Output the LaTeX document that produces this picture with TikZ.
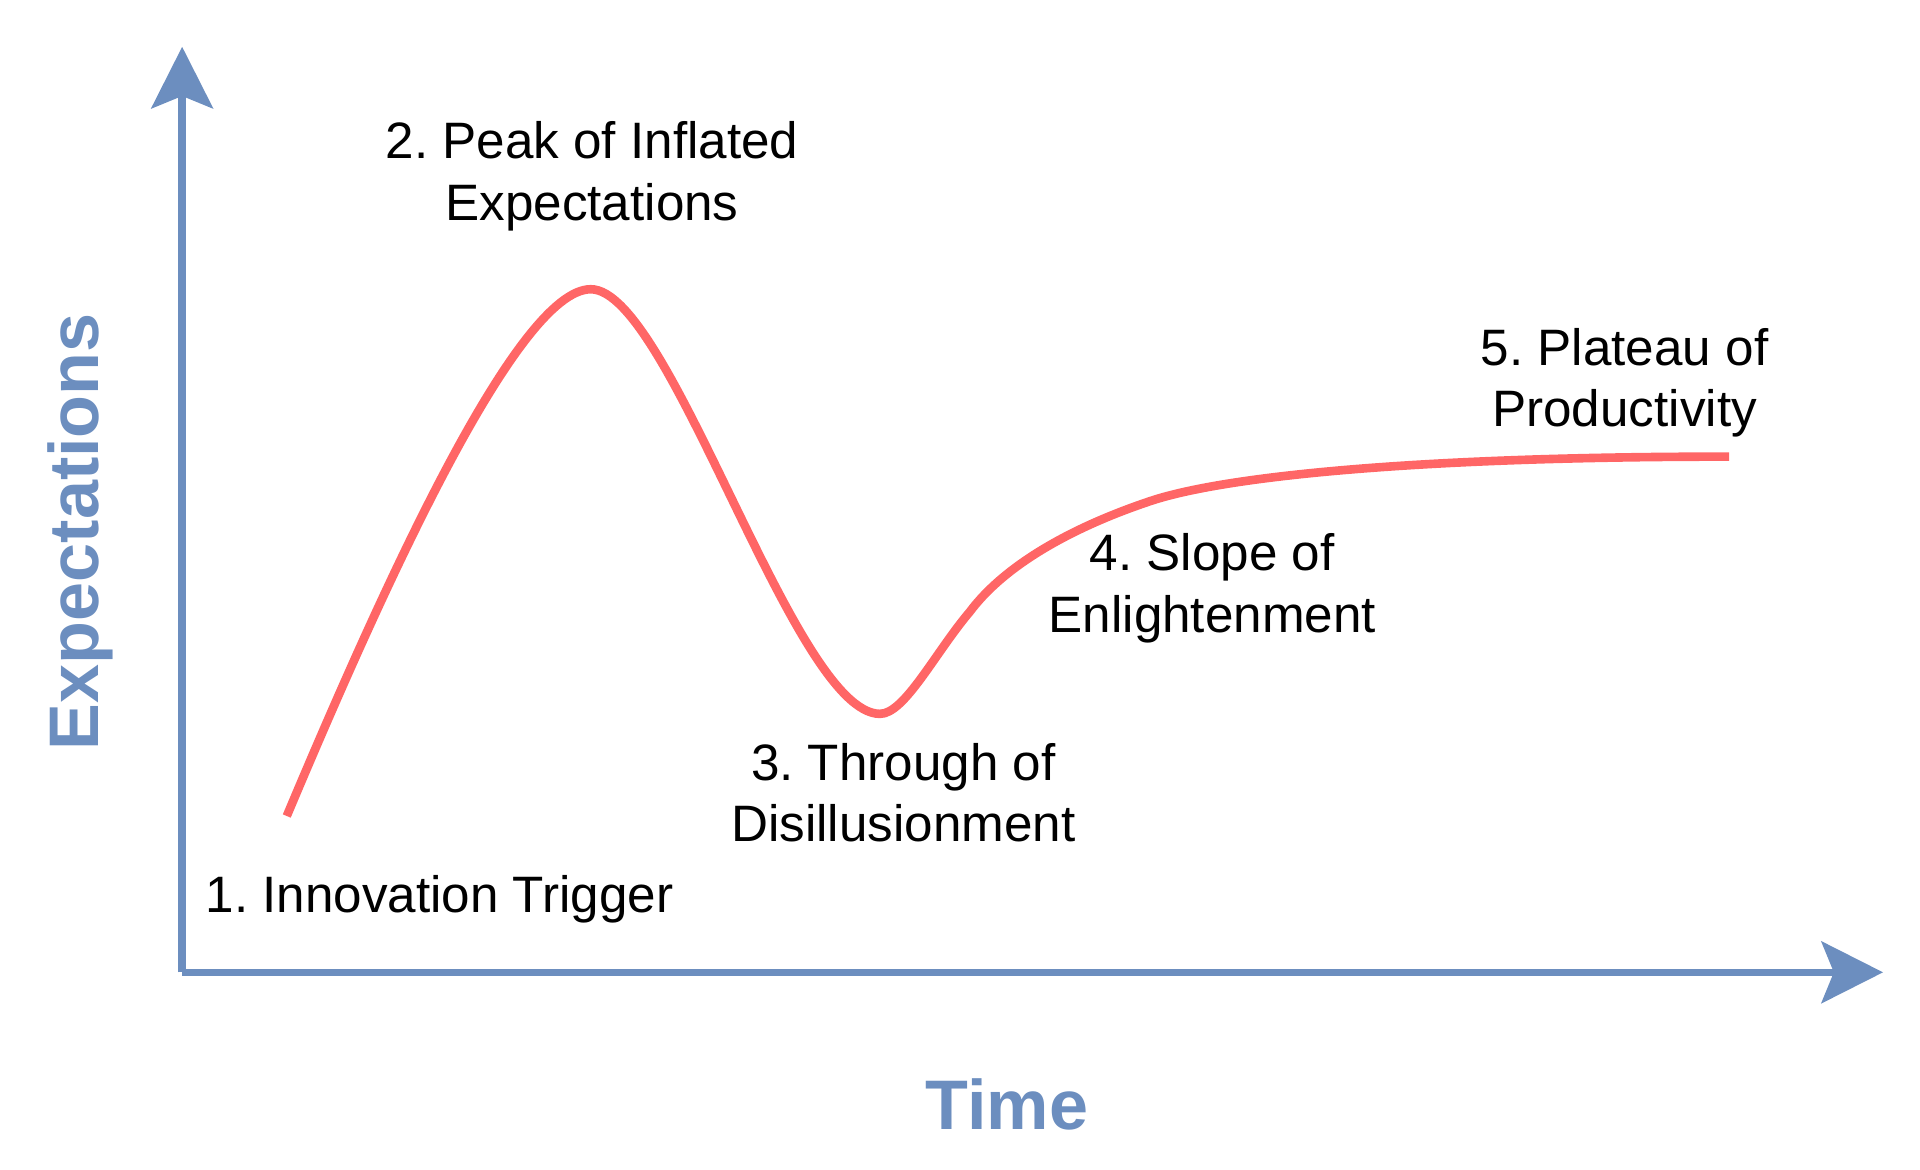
\documentclass[tikz,border=0pt]{standalone}
\usepackage{fontspec}
\setmainfont{Liberation Sans}
\usepackage{xcolor}
\usetikzlibrary{arrows.meta}
\definecolor{axisblue}{HTML}{6C8EBF}
\definecolor{hypered}{HTML}{FF6666}
\newcommand{\AX}[0]{axisblue}
\newcommand{\HC}[0]{hypered}
\frenchspacing

\begin{document}
\begin{tikzpicture}[x=0.5pt, y=-0.5pt,
  axis/.style={line width=3pt, color=\AX, -{Stealth[length=25pt, width=25pt, inset=5pt]}},
  hype/.style={line width=3.5pt, color=\HC},
  phase/.style={align=center, font=\fontsize{20.8pt}{25pt}\selectfont, inner sep=0pt},
  title/.style={color=\AX, font=\fontsize{28.5pt}{34pt}\selectfont\bfseries, inner sep=0pt}]

  \useasboundingbox (0, 0) rectangle (1560, 950);

  \coordinate (origin) at (148, 790);
  \coordinate (ytip) at (148, 38);
  \coordinate (xtip) at (1530, 790);

  \draw[axis] (origin) -- (ytip); %% expectations
  \draw[axis] (origin) -- (xtip); %% time

  %% the hype curve
  \coordinate (start) at (233, 663);
  \coordinate (peak) at (480, 235);
  \coordinate (trough) at (715, 580);
  \coordinate (climb) at (788, 497);
  \coordinate (bend) at (935, 407);
  \coordinate (plateau) at (1405, 371);

  \draw[hype] (start)
  .. controls (310, 480) and (420, 235) .. (peak)
  .. controls (545, 235) and (645, 580) .. (trough)
  .. controls (735, 580) and (760, 530) .. (climb)
  .. controls (818, 457) and (875, 427) .. (bend)
  .. controls (995, 387) and (1150, 371) .. (plateau);

  \node[phase] (trigger) at (357, 731) {1. Innovation Trigger};
  \node[phase] (inflated) at (481, 143) {2. Peak of Inflated\\Expectations};
  \node[phase] (disillusion) at (734, 644) {3. Through of\\Disillusionment};
  \node[phase] (slope) at (985, 478) {4. Slope of\\Enlightenment};
  \node[phase] (productive) at (1320, 311) {5. Plateau of\\Productivity};

  \node[title] (time) at (818, 897) {Time};
  \node[title, rotate=90] (expect) at (65, 432) {Expectations};

\end{tikzpicture}
\end{document}
